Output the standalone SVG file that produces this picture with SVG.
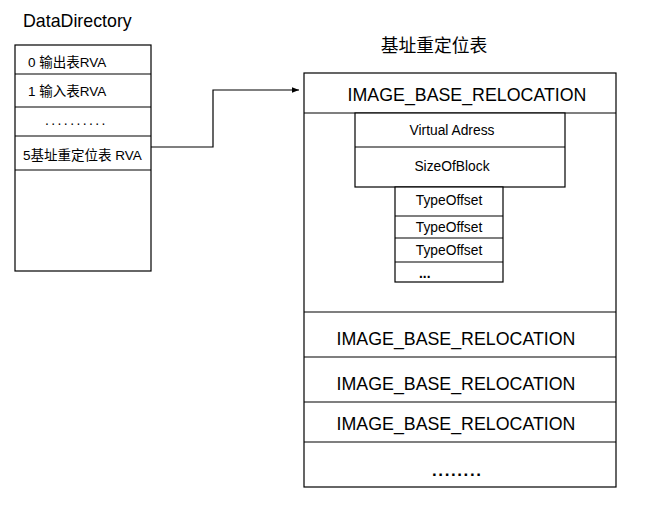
<svg xmlns="http://www.w3.org/2000/svg" width="665" height="514" viewBox="0 0 665 514">
<style>
.box{fill:#fff;stroke:#000;stroke-width:1.2}
.ln{stroke:#000;stroke-width:1.2;fill:none}
.t{font-family:"Liberation Sans","Noto Sans CJK SC",Arial,sans-serif;fill:#000}
.cj{font-family:"Noto Sans CJK SC","Liberation Sans",sans-serif;fill:#000}
</style>
<defs>
<marker id="ah" viewBox="0 0 10 10" refX="10" refY="5" markerWidth="8" markerHeight="7" markerUnits="userSpaceOnUse" orient="auto">
<path d="M0,1 L10,5 L0,9 Z" fill="#000"/>
</marker>
</defs>
<rect width="665" height="514" fill="#fff"/>

<g id="datadirectory">
<text class="t" x="23" y="27" font-size="17.8">DataDirectory</text>
<rect class="box" x="15" y="45" width="136" height="226"/>
<line class="ln" x1="15" y1="74" x2="151" y2="74"/>
<line class="ln" x1="15" y1="107" x2="151" y2="107"/>
<line class="ln" x1="15" y1="136" x2="151" y2="136"/>
<line class="ln" x1="15" y1="170" x2="151" y2="170"/>
<text class="t" x="28" y="67" font-size="13.5">0 输出表RVA</text>
<text class="t" x="28" y="96" font-size="13.5">1 输入表RVA</text>
<text class="t" x="45" y="125" font-size="14" letter-spacing="2.4">..........</text>
<text class="t" x="23" y="160" font-size="13.5">5基址重定位表 RVA</text>
</g>

<g id="connectors">
<polyline class="ln" points="151,147 213,147 213,90 299,90" marker-end="url(#ah)"/>
</g>

<g id="relocation-table">
<text class="cj" x="434" y="52" font-size="17.8" text-anchor="middle">基址重定位表</text>
<rect class="box" x="304" y="73" width="312" height="414"/>
<line class="ln" x1="304" y1="113" x2="616" y2="113"/>
<line class="ln" x1="304" y1="312" x2="616" y2="312"/>
<line class="ln" x1="304" y1="357" x2="616" y2="357"/>
<line class="ln" x1="304" y1="402" x2="616" y2="402"/>
<line class="ln" x1="304" y1="442" x2="616" y2="442"/>
<text class="t" x="467" y="101" font-size="17.8" text-anchor="middle">IMAGE_BASE_RELOCATION</text>
<text class="t" x="456" y="345" font-size="17.8" text-anchor="middle">IMAGE_BASE_RELOCATION</text>
<text class="t" x="456" y="390" font-size="17.8" text-anchor="middle">IMAGE_BASE_RELOCATION</text>
<text class="t" x="456" y="430" font-size="17.8" text-anchor="middle">IMAGE_BASE_RELOCATION</text>
<text class="t" x="432" y="476" font-size="17" font-weight="bold" letter-spacing="1.6">........</text>
</g>

<g id="block-header">
<rect class="box" x="355" y="113" width="210" height="74"/>
<line class="ln" x1="355" y1="147" x2="565" y2="147"/>
<text class="t" x="452" y="135" font-size="13.8" text-anchor="middle">Virtual Adress</text>
<text class="t" x="452" y="171" font-size="13.8" text-anchor="middle">SizeOfBlock</text>
</g>

<g id="typeoffsets">
<rect class="box" x="395" y="187" width="108" height="95"/>
<line class="ln" x1="395" y1="216" x2="503" y2="216"/>
<line class="ln" x1="395" y1="238" x2="503" y2="238"/>
<line class="ln" x1="395" y1="262" x2="503" y2="262"/>
<text class="t" x="449" y="205" font-size="13.8" text-anchor="middle">TypeOffset</text>
<text class="t" x="449" y="232" font-size="13.8" text-anchor="middle">TypeOffset</text>
<text class="t" x="449" y="255" font-size="13.8" text-anchor="middle">TypeOffset</text>
<text class="t" x="419" y="278" font-size="13.8" font-weight="bold">...</text>
</g>
</svg>
